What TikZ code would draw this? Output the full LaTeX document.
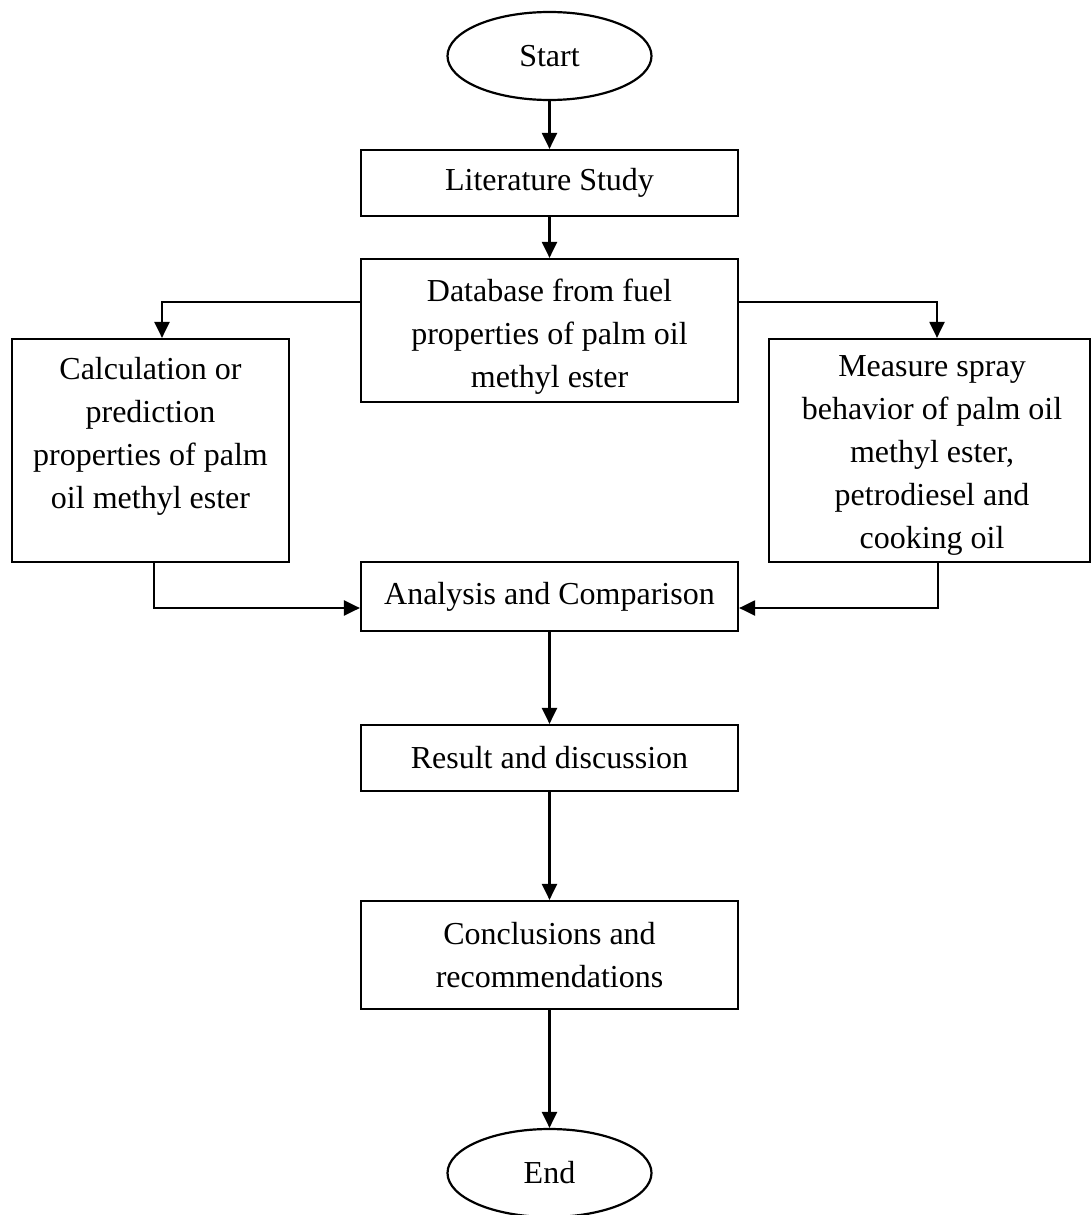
\documentclass[tikz,border=0pt]{standalone}
\usepackage{fontspec}
\setmainfont{Liberation Serif}
\usetikzlibrary{shapes.geometric,arrows.meta}
\begin{document}
\begin{tikzpicture}[x=1pt,y=-1pt,
  every node/.style={font=\fontsize{32}{43}\selectfont, align=center},
  box/.style={draw, line width=2.2pt, inner sep=0pt},
  term/.style={draw, ellipse, line width=2.2pt, inner sep=0pt, minimum width=204pt, minimum height=88pt},
  txt/.style={inner sep=0pt},
  arr/.style={-{Triangle[length=16pt,width=15pt]}, line width=2.2pt}]
\useasboundingbox (0,0) rectangle (1091,1215);
\node[term] (start) at (549.5,56) {Start};
\node[box, minimum width=377pt, minimum height=66pt] (lit) at (549.5,183) {Literature Study};
\node[box, minimum width=377pt, minimum height=143pt] (db) at (549.5,330.5) {};
\node[txt] (dbt) at (549.5,337) {Database from fuel\\properties of palm oil\\methyl ester};
\node[box, minimum width=277pt, minimum height=223pt] (calc) at (150.5,450.5) {};
\node[txt] (calct) at (150.5,436) {Calculation or\\prediction\\properties of palm\\oil methyl ester};
\node[box, minimum width=321pt, minimum height=223pt] (meas) at (929.5,450.5) {};
\node[txt] (meast) at (932,455) {Measure spray\\behavior of palm oil\\methyl ester,\\petrodiesel and\\cooking oil};
\node[box, minimum width=377pt, minimum height=69pt] (ana) at (549.5,596.5) {Analysis and Comparison};
\node[box, minimum width=377pt, minimum height=66pt] (res) at (549.5,758) {Result and discussion};
\node[box, minimum width=377pt, minimum height=108pt] (conc) at (549.5,955) {Conclusions and\\recommendations};
\node[term] (end) at (549.5,1173) {End};
\draw[arr] (start) -- (lit);
\draw[arr] (lit) -- (db);
\draw[arr] (db.west |- 0,302) -| (calc.north -| 162,0);
\draw[arr] (db.east |- 0,302) -| (meas.north -| 937,0);
\draw[arr] (calc.south -| 154,0) |- (ana.west |- 0,608);
\draw[arr] (meas.south -| 938,0) |- (ana.east |- 0,608);
\draw[arr] (ana) -- (res);
\draw[arr] (res) -- (conc);
\draw[arr] (conc) -- (end);
\end{tikzpicture}
\end{document}
